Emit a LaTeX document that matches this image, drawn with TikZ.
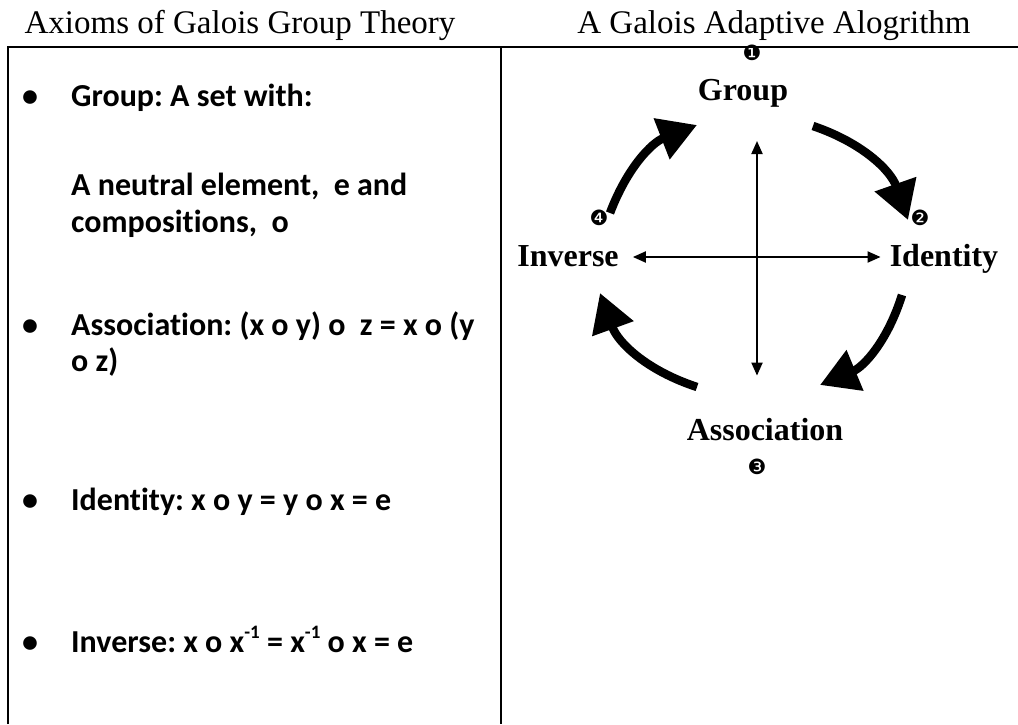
\documentclass[tikz,border=0pt]{standalone}
\usepackage{fontspec}
\setmainfont{Liberation Serif}
\newfontfamily\carl[Ligatures=NoCommon]{Carlito}
\newfontfamily\djv{DejaVu Sans}
\usetikzlibrary{arrows.meta}
\frenchspacing
\begin{document}
\begin{tikzpicture}[x=1pt,y=1pt,
  frame/.style={line width=2pt},
  ttl/.style={anchor=base, inner sep=0pt, font=\fontsize{33}{38}\selectfont},
  itm/.style={anchor=base west, inner sep=0pt, font=\carl\bfseries\fontsize{32}{38}\selectfont},
  bul/.style={anchor=base, inner sep=0pt, font=\carl\bfseries\fontsize{32}{38}\selectfont},
  lab/.style={anchor=base, inner sep=0pt, font=\bfseries\fontsize{32}{37}\selectfont},
  num/.style={inner sep=0pt, font=\djv\fontsize{21}{23}\selectfont},
  cross/.style={line width=2pt, {Triangle[length=13pt,width=11pt]}-{Triangle[length=13pt,width=11pt]}},
  cyc/.style={line width=8.5pt, -{Triangle[length=38pt,width=42pt]}}]
\useasboundingbox (0,0) rectangle (1018,-724);
\fill[white] (0,0) rectangle (1018,-724);
% table frame
\draw[frame] (8,-724) -- (8,-47) -- (1018,-47);
\draw[frame] (501,-47) -- (501,-724);
% titles
\node[ttl] (t1) at (240,-33) {Axioms of Galois Group Theory};
\node[ttl] (t2) at (774,-33) {A Galois Adaptive Alogrithm};
% left column
\node[bul] (b1) at (30,-106) {•};
\node[itm] (i1) at (71,-106) {Group: A set with:};
\node[itm] (i1a) at (71,-195) {A neutral element,\ \ e and};
\node[itm] (i1b) at (71,-232) {compositions,\ \ o};
\node[bul] (b2) at (30,-335) {•};
\node[itm] (i2) at (71,-335) {Association: (x o y) o\ \ z = x o (y};
\node[itm] (i2a) at (71,-371) {o z)};
\node[bul] (b3) at (30,-510) {•};
\node[itm] (i3) at (71,-510) {Identity: x o y = y o x = e};
\node[bul] (b4) at (30,-652) {•};
\node[itm] (i4) at (71,-652) {Inverse: x o x\raisebox{0.42em}{\fontsize{19}{20}\selectfont -1} = x\raisebox{0.42em}{\fontsize{19}{20}\selectfont -1} o x = e};
% right diagram
\coordinate (ctr) at (757,-257);
\node[lab] (grp) at (743,-100) {Group};
\node[lab] (inv) at (568,-266) {Inverse};
\node[lab] (idn) at (944,-266) {Identity};
\node[lab] (asc) at (765,-440) {Association};
\node[num] (n1) at (752,-53) {❶};
\node[num] (n2) at (920,-218) {❷};
\node[num] (n3) at (757,-467) {❸};
\node[num] (n4) at (599,-218) {❹};
\draw[cross] (inv.east |- ctr) ++(14,0) coordinate (hl) -- ([xshift=-9]idn.west |- ctr);
\draw[cross, shorten <=34pt, shorten >=42pt] (grp.south -| ctr) -- (asc.north -| ctr);
% cycle arrows
\coordinate (a1s) at (610,-213);
\coordinate (a1e) at (697,-125);
\coordinate (a2s) at (813,-126);
\coordinate (a2e) at (908,-220);
\coordinate (a3s) at (902,-295);
\coordinate (a3e) at (820,-385);
\coordinate (a4s) at (697,-387);
\coordinate (a4e) at (600,-293);
\draw[cyc] (a1s) to[bend left=24] (a1e);
\draw[cyc] (a2s) to[bend left=26] (a2e);
\draw[cyc] (a3s) to[bend left=25] (a3e);
\draw[cyc] (a4s) to[bend left=26] (a4e);
\end{tikzpicture}
\end{document}
